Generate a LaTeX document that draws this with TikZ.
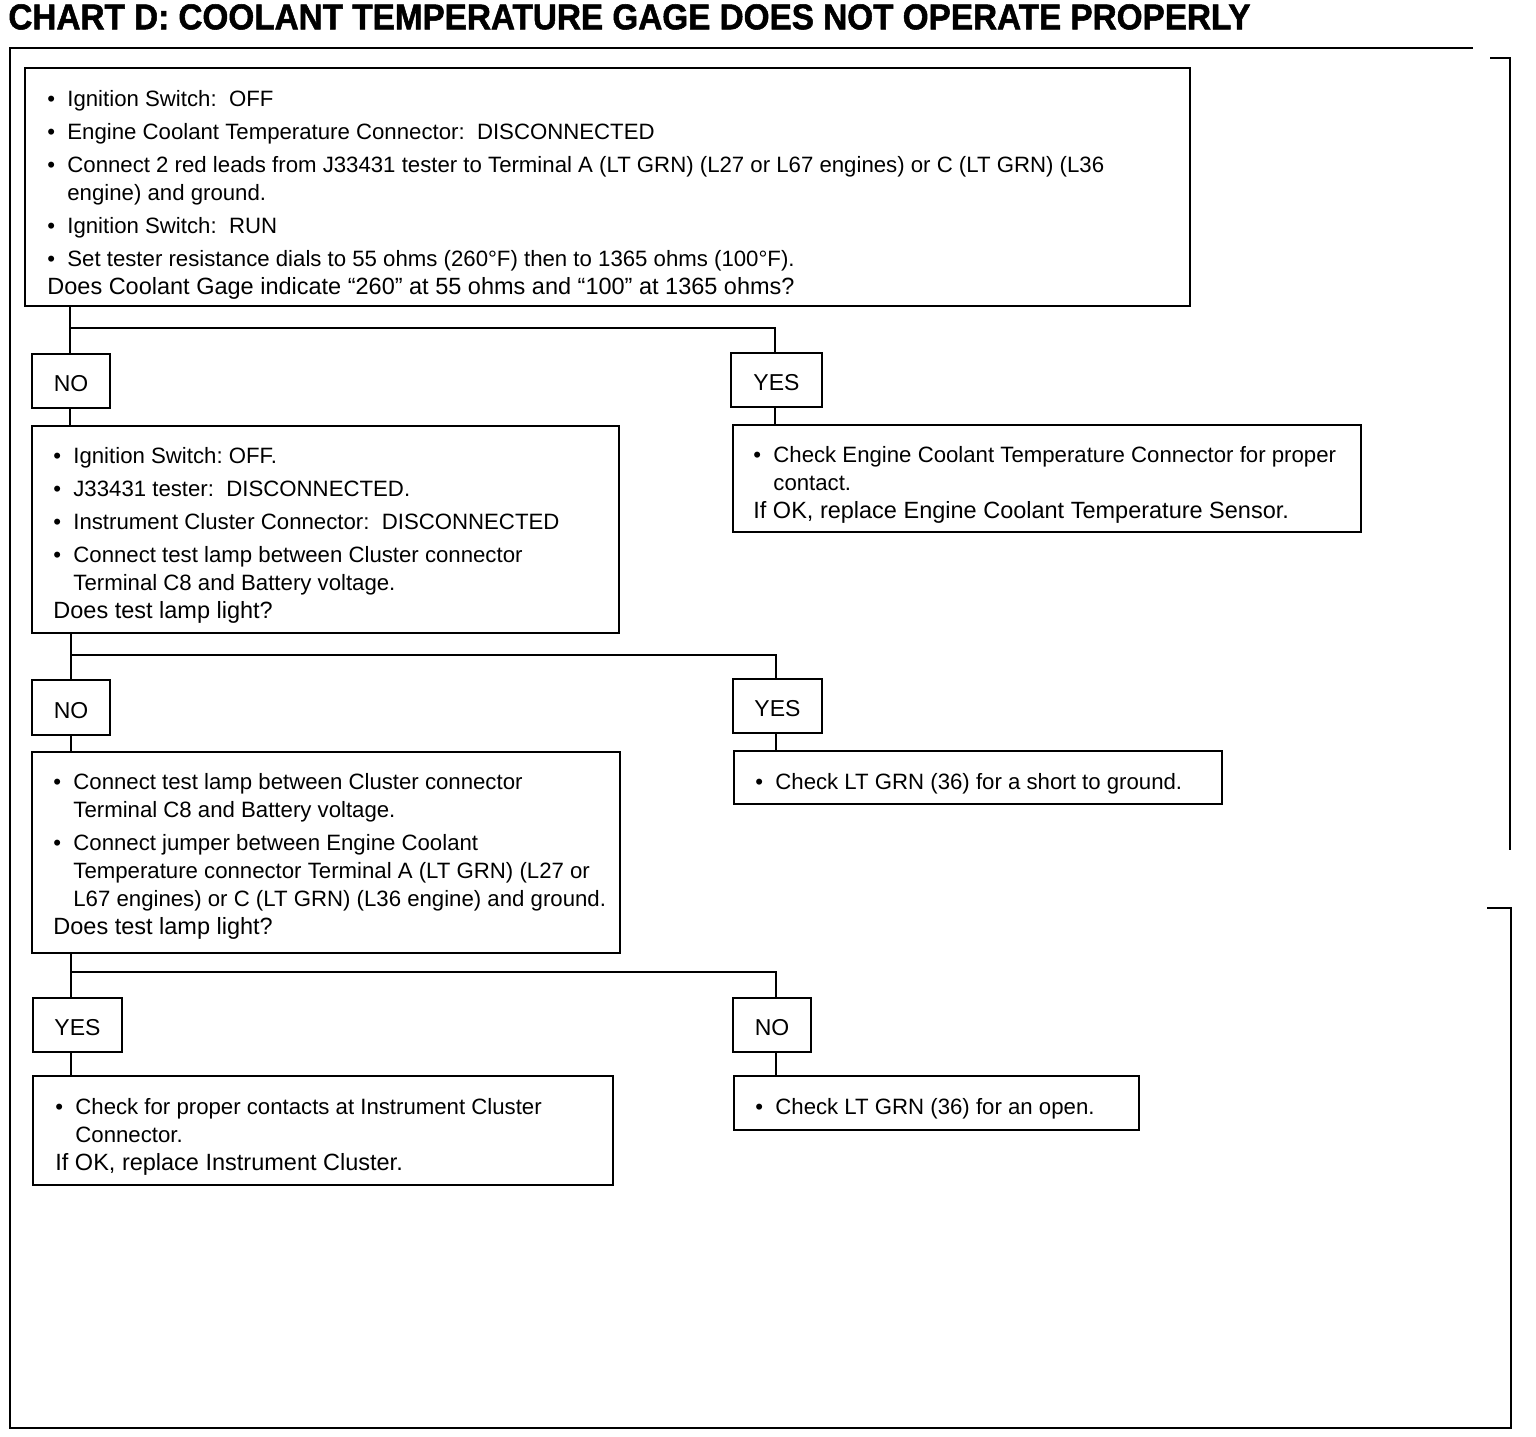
\documentclass[tikz,border=0pt]{standalone}
\usepackage{fontspec}
\setmainfont{Liberation Sans}
\newfontface\titlefont[FakeBold=1.5]{Liberation Sans Bold}
\usetikzlibrary{calc}
\newcommand{\bi}[1]{\makebox[10pt][l]{\textbullet}#1}
\newcommand{\ci}[1]{\hspace*{10pt}#1}
\newcommand{\qq}[1]{{\fontsize{11.75pt}{14pt}\selectfont #1}}
\newcommand{\bx}[6]{\node[box, minimum width={(#4-#2)*0.5pt}, minimum height={(#5-#3)*0.5pt}] (#1) at ({(#2+#4)/2},{(#3+#5)/2}) {#6};}
\tikzset{
  box/.style={draw, line width=0.9pt, inner sep=0pt, text height=10.7pt, text depth=0pt, font=\fontsize{11.5pt}{14pt}\selectfont},
  txt/.style={align=left, inner sep=0pt, anchor=north west, font=\fontsize{11.1pt}{14pt}\selectfont\frenchspacing},
  conn/.style={line width=1.3pt},
  frame/.style={line width=1.4pt}
}
\begin{document}
\begin{tikzpicture}[x=0.5pt,y=-0.5pt]
\useasboundingbox (0,0) rectangle (1536,1436);
% title
\node[anchor=south west, inner sep=0pt] (title) at (8,30) {\resizebox{621pt}{12.5pt}{\titlefont CHART D: COOLANT TEMPERATURE GAGE DOES NOT OPERATE PROPERLY}};
% frame
\draw[frame] (9,48) -- (1473,48);
\draw[frame] (1490,58) -- (1510,58) -- (1510,850);
\draw[frame] (10,48) -- (10,1428) -- (1511,1428) -- (1511,908) -- (1487,908);
% boxes
\bx{A}{25}{68}{1190}{306}{}
\bx{no1}{32}{354}{110}{408}{NO}
\bx{yes1}{731}{353}{822}{407}{YES}
\bx{B}{32}{426}{619}{633}{}
\bx{C}{733}{425}{1361}{532}{}
\bx{no2}{32}{680}{110}{735}{NO}
\bx{yes2}{733}{679}{822}{733}{YES}
\bx{D}{734}{751}{1222}{804}{}
\bx{E}{32}{752}{620}{953}{}
\bx{yes3}{33}{998}{122}{1052}{YES}
\bx{no3}{733}{998}{811}{1052}{NO}
\bx{F}{33}{1076}{613}{1185}{}
\bx{G}{734}{1076}{1139}{1130}{}
% texts
\node[txt] (tA) at (47,86.4) {\strut\bi{Ignition Switch:~ OFF}\\[2.5pt]
\bi{Engine Coolant Temperature Connector:~ DISCONNECTED}\\[2.5pt]
\bi{Connect 2 red leads from J33431 tester to Terminal A (LT GRN) (L27 or L67 engines) or C (LT GRN) (L36}\\
\ci{engine) and ground.}\\[2.5pt]
\bi{Ignition Switch:~ RUN}\\[2.5pt]
\bi{Set tester resistance dials to 55 ohms (260°F) then to 1365 ohms (100°F).}\\
\qq{Does Coolant Gage indicate “260” at 55 ohms and “100” at 1365 ohms?}};
\node[txt] (tB) at (53,443.4) {\strut\bi{Ignition Switch: OFF.}\\[2.5pt]
\bi{J33431 tester:~ DISCONNECTED.}\\[2.5pt]
\bi{Instrument Cluster Connector:~ DISCONNECTED}\\[2.5pt]
\bi{Connect test lamp between Cluster connector}\\
\ci{Terminal C8 and Battery voltage.}\\
\qq{Does test lamp light?}};
\node[txt] (tC) at (753,442.4) {\strut\bi{Check Engine Coolant Temperature Connector for proper}\\
\ci{contact.}\\
\qq{If OK, replace Engine Coolant Temperature Sensor.}};
\node[txt] (tD) at (755,769.4) {\strut\bi{Check LT GRN (36) for a short to ground.}};
\node[txt] (tE) at (53,769.4) {\strut\bi{Connect test lamp between Cluster connector}\\
\ci{Terminal C8 and Battery voltage.}\\[2.5pt]
\bi{Connect jumper between Engine Coolant}\\
\ci{Temperature connector Terminal A (LT GRN) (L27 or}\\
\ci{L67 engines) or C (LT GRN) (L36 engine) and ground.}\\
\qq{Does test lamp light?}};
\node[txt] (tF) at (55,1094.4) {\strut\bi{Check for proper contacts at Instrument Cluster}\\
\ci{Connector.}\\
\qq{If OK, replace Instrument Cluster.}};
\node[txt] (tG) at (755,1094.4) {\strut\bi{Check LT GRN (36) for an open.}};
% junctions
\coordinate (j1) at (70,328); \coordinate (k1) at (775,328);
\coordinate (j2) at (71,655); \coordinate (k2) at (776,655);
\coordinate (j3) at (71,972); \coordinate (k3) at (776,972);
% connectors
\draw[conn] (j1 |- A.south) -- (j1 |- no1.north);
\draw[conn] (j1) -- (k1) -- (k1 |- yes1.north);
\draw[conn] (j1 |- no1.south) -- (j1 |- B.north);
\draw[conn] (k1 |- yes1.south) -- (k1 |- C.north);
\draw[conn] (j2 |- B.south) -- (j2 |- no2.north);
\draw[conn] (j2) -- (k2) -- (k2 |- yes2.north);
\draw[conn] (j2 |- no2.south) -- (j2 |- E.north);
\draw[conn] (k2 |- yes2.south) -- (k2 |- D.north);
\draw[conn] (j3 |- E.south) -- (j3 |- yes3.north);
\draw[conn] (j3) -- (k3) -- (k3 |- no3.north);
\draw[conn] (j3 |- yes3.south) -- (j3 |- F.north);
\draw[conn] (k3 |- no3.south) -- (k3 |- G.north);
\end{tikzpicture}
\end{document}
